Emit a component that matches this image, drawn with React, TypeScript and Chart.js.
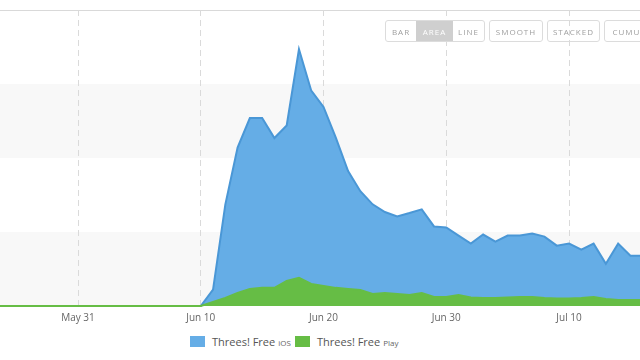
import React, { useEffect, useRef } from "react";
import { Chart, registerables } from "chart.js";

Chart.register(...registerables);

const dates = [
  "May 24", "May 25", "May 26", "May 27", "May 28", "May 29", "May 30", "May 31",
  "Jun 1", "Jun 2", "Jun 3", "Jun 4", "Jun 5", "Jun 6", "Jun 7", "Jun 8", "Jun 9", "Jun 10",
  "Jun 11", "Jun 12", "Jun 13", "Jun 14", "Jun 15", "Jun 16", "Jun 17", "Jun 18", "Jun 19", "Jun 20",
  "Jun 21", "Jun 22", "Jun 23", "Jun 24", "Jun 25", "Jun 26", "Jun 27", "Jun 28", "Jun 29", "Jun 30",
  "Jul 1", "Jul 2", "Jul 3", "Jul 4", "Jul 5", "Jul 6", "Jul 7", "Jul 8", "Jul 9", "Jul 10",
  "Jul 11", "Jul 12", "Jul 13", "Jul 14", "Jul 15", "Jul 16",
];

const tickLabels = ["May 31", "Jun 10", "Jun 20", "Jun 30", "Jul 10"];

const iosValues = [
  0, 0, 0, 0, 0, 0, 0, 0,
  0, 0, 0, 0, 0, 0, 0, 0, 0, 0,
  220, 1370, 2140, 2540, 2540, 2270, 2440, 3470, 2910, 2690,
  2276, 1823, 1551, 1374, 1270, 1211, 1256, 1306, 1075, 1061,
  952, 843, 966, 870, 952, 952, 979, 938, 816, 843,
  762, 843, 571, 843, 680, 680,
];

const playValues = [
  0, 0, 0, 0, 0, 0, 0, 0,
  0, 0, 0, 0, 0, 0, 0, 0, 0, 0,
  54, 109, 177, 231, 245, 245, 340, 381, 299, 272,
  245, 231, 218, 163, 177, 163, 150, 177, 122, 122,
  150, 116, 109, 109, 116, 122, 122, 109, 102, 102,
  109, 122, 95, 82, 82, 82,
];

const bandValues = [0, 1000, 2000, 3000, 4000];

const seriesNames = ["Threes! Free", "Threes! Free"];
const seriesPlatforms = ["iOS", "Play"];
const seriesColors = ["#65ade6", "#66bd45"];

const viewStart = 0.646;
const viewEnd = 52.78;

const bandsPlugin = {
  id: "bands",
  beforeDraw(chart: any) {
    const { ctx, chartArea, scales } = chart;
    const y = scales.y;
    ctx.save();
    ctx.fillStyle = "#ffffff";
    ctx.fillRect(0, 0, chart.width, chart.height);
    for (let i = 0; i < bandValues.length - 1; i++) {
      if (i % 2 === 0) {
        const y0 = y.getPixelForValue(bandValues[i]);
        const y1 = y.getPixelForValue(bandValues[i + 1]);
        ctx.fillStyle = "#f8f8f8";
        ctx.fillRect(chartArea.left, y1, chartArea.right - chartArea.left, y0 - y1);
      }
    }
    const top = y.getPixelForValue(bandValues[bandValues.length - 1]);
    ctx.strokeStyle = "#d9d9d9";
    ctx.lineWidth = 1;
    ctx.beginPath();
    ctx.moveTo(chartArea.left, Math.round(top) + 0.5);
    ctx.lineTo(chartArea.right, Math.round(top) + 0.5);
    ctx.stroke();
    ctx.restore();
  },
};

const buttonStyle: React.CSSProperties = {
  position: "absolute",
  top: 20,
  height: 22,
  boxSizing: "border-box",
  border: "1px solid #dcdcdc",
  borderRadius: 3,
  fontFamily: "'Open Sans', sans-serif",
  fontSize: 8,
  letterSpacing: 1,
  color: "#a0a0a0",
  display: "flex",
  alignItems: "center",
  justifyContent: "center",
};

export default function App() {
  const canvasRef = useRef<HTMLCanvasElement | null>(null);

  useEffect(() => {
    if (!canvasRef.current) return;
    const tickIdx = tickLabels.map((l) => dates.indexOf(l));
    const chart = new Chart(canvasRef.current, {
      type: "line",
      data: {
        datasets: [
          {
            label: seriesNames[0] + " " + seriesPlatforms[0],
            data: iosValues.map((v, i) => ({ x: i, y: v })),
            fill: "origin",
            backgroundColor: seriesColors[0],
            borderColor: "#4a97d6",
            borderWidth: 2,
            pointRadius: 0,
            tension: 0,
            order: 2,
            clip: { left: 0, right: 0, top: 4, bottom: 4 },
          },
          {
            label: seriesNames[1] + " " + seriesPlatforms[1],
            data: playValues.map((v, i) => ({ x: i, y: v })),
            fill: "origin",
            backgroundColor: seriesColors[1],
            borderColor: seriesColors[1],
            borderWidth: 2,
            pointRadius: 0,
            tension: 0,
            order: 1,
            clip: { left: 0, right: 0, top: 4, bottom: 4 },
          },
        ],
      },
      options: {
        animation: false,
        responsive: false,
        maintainAspectRatio: false,
        layout: { padding: { top: 10, bottom: 0, left: 0, right: 0 } },
        plugins: { legend: { display: false }, tooltip: { enabled: false } },
        scales: {
          x: {
            type: "linear",
            min: viewStart,
            max: viewEnd,
            afterBuildTicks: (scale: any) => {
              scale.ticks = tickIdx.map((v) => ({ value: v }));
            },
            grid: { color: "#dadada", lineWidth: 1, drawTicks: false },
            border: { display: false, dash: [6, 4] },
            ticks: {
              padding: 6,
              autoSkip: false,
              maxRotation: 0,
              color: "#666666",
              font: { family: "'Open Sans', sans-serif", size: 10 },
              callback: (v: any) => dates[Number(v)] ?? "",
            },
          },
          y: {
            display: false,
            min: bandValues[0],
            max: bandValues[bandValues.length - 1],
          },
        },
      },
      plugins: [bandsPlugin],
    } as any);
    return () => chart.destroy();
  }, []);

  const legendItem = (i: number, left: number) => (
    <div
      key={i}
      style={{
        position: "absolute",
        left,
        top: 334,
        height: 14,
        display: "flex",
        alignItems: "center",
        fontFamily: "'Open Sans', sans-serif",
        color: "#555",
        whiteSpace: "nowrap",
      }}
    >
      <span style={{ width: 15, height: 11, background: seriesColors[i], display: "inline-block", marginRight: 7 }} />
      <span style={{ fontSize: 11 }}>{seriesNames[i]}</span>
      <span style={{ fontSize: 8, marginLeft: 3, marginTop: 2, color: "#666" }}>{seriesPlatforms[i]}</span>
    </div>
  );

  return (
    <div style={{ position: "fixed", left: 0, top: 0, width: 640, height: 360, background: "#fff", overflow: "hidden" }}>
      <canvas ref={canvasRef} width={640} height={330} style={{ position: "absolute", left: 0, top: 0, width: 640, height: 330 }} />
      <div style={{ ...buttonStyle, left: 385, width: 100, justifyContent: "flex-start", padding: 0 }}>
        <div style={{ width: 30, height: "100%", display: "flex", alignItems: "center", justifyContent: "center" }}>BAR</div>
        <div style={{ width: 37, height: "100%", display: "flex", alignItems: "center", justifyContent: "center", background: "#cfcfcf", color: "#fff" }}>AREA</div>
        <div style={{ width: 31, height: "100%", display: "flex", alignItems: "center", justifyContent: "center" }}>LINE</div>
      </div>
      <div style={{ ...buttonStyle, left: 489, width: 54 }}>SMOOTH</div>
      <div style={{ ...buttonStyle, left: 547, width: 53 }}>STACKED</div>
      <div style={{ ...buttonStyle, left: 604, width: 76 }}>CUMULATIVE</div>
      {legendItem(0, 190)}
      {legendItem(1, 295)}
    </div>
  );
}
